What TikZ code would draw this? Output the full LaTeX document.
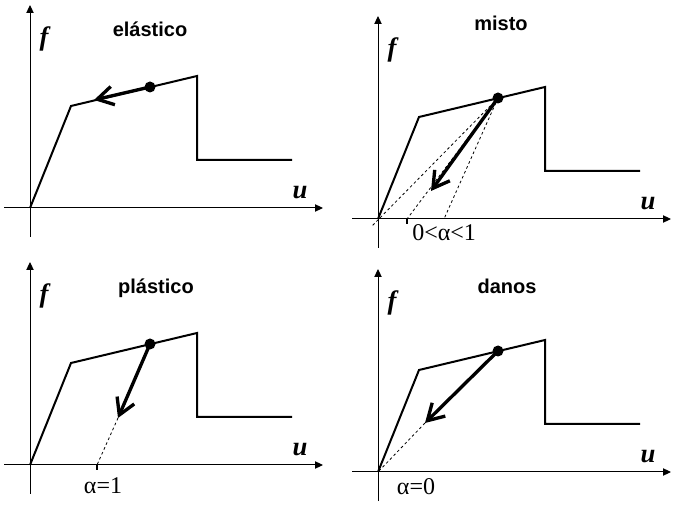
\documentclass[tikz,border=0pt]{standalone}
\usepackage{fontspec}
\setmainfont{Liberation Serif}
\newfontfamily\arial{Liberation Sans}
\usetikzlibrary{arrows.meta}
\tikzset{
  axis/.style={line width=.75pt,-{Triangle[length=6pt,width=5.5pt]}},
  curve/.style={line width=1.5pt},
  load/.style={line width=2.5pt,-{Straight Barb[length=12pt,width=14pt]}},
  guide/.style={line width=.6pt,dash pattern=on 2pt off 2pt},
  tick/.style={line width=1.5pt},
  ttl/.style={font=\arial\bfseries\fontsize{15}{17}\selectfont},
  var/.style={font=\bfseries\itshape\fontsize{20}{22}\selectfont},
  lab/.style={font=\fontsize{18}{20}\selectfont,inner sep=0pt}
}
\begin{document}
\begin{tikzpicture}[x=.75pt,y=-.75pt]
\useasboundingbox (0,0) rectangle (678,505);
% the same curve in the four panels
\foreach \n/\ox/\oy in {1/30/208,2/378/219,3/30/465,4/378/472}{
\begin{scope}[shift={(\ox,\oy)}]
\coordinate (o\n) at (0,0);
\coordinate (xa\n) at (-26,0);
\coordinate (xb\n) at (293,0);
\coordinate (ya\n) at (0,29);
\coordinate (yb\n) at (0,-203);
\coordinate (k\n) at (41,-102);
\coordinate (p\n) at (167,-132);
\coordinate (d\n) at (167,-48);
\coordinate (e\n) at (262,-48);
\coordinate (m\n) at (120,-121);
\draw[axis] (xa\n)--(xb\n);
\draw[axis] (ya\n)--(yb\n);
\draw[curve] (o\n)--(k\n)--(p\n)--(d\n)--(e\n);
\node[var] (f\n) at (14,-169) {f};
\node[var] (u\n) at (270,-15) {u};
\end{scope}
}
% elastico
\node[ttl] (t1) at (150,29) {elástico};
\coordinate (a1) at (94,100);
\draw[load] (m1)--(a1);
% misto
\node[ttl] (t2) at (501,23) {misto};
\coordinate (a2) at (431,191);
\coordinate (q2) at (407,219);
\coordinate (r2) at (444,219);
\coordinate (s2) at (372,226);
\draw[guide] (m2)--(s2);
\draw[guide] (m2)--(q2);
\draw[guide] (m2)--(r2);
\draw[tick] (q2)--++(0,5);
\draw[load] (m2)--(a2);
\node[lab,anchor=west] (l2) at (412,233) {0<α<1};
% plastico
\node[ttl] (t3) at (156,288) {plástico};
\coordinate (a3) at (118,418);
\coordinate (q3) at (97,465);
\draw[guide] (a3)--(q3);
\draw[tick] (q3)--++(0,5);
\draw[load] (m3)--(a3);
\node[lab] (l3) at (103,486) {α=1};
% danos
\node[ttl] (t4) at (507,286) {danos};
\coordinate (a4) at (425,423);
\draw[guide] (a4)--(o4);
\draw[load] (m4)--(a4);
\node[lab] (l4) at (416,487) {α=0};
% points on the curve
\foreach \n in {1,...,4}
  \fill (m\n) circle (5.5);
\end{tikzpicture}
\end{document}
